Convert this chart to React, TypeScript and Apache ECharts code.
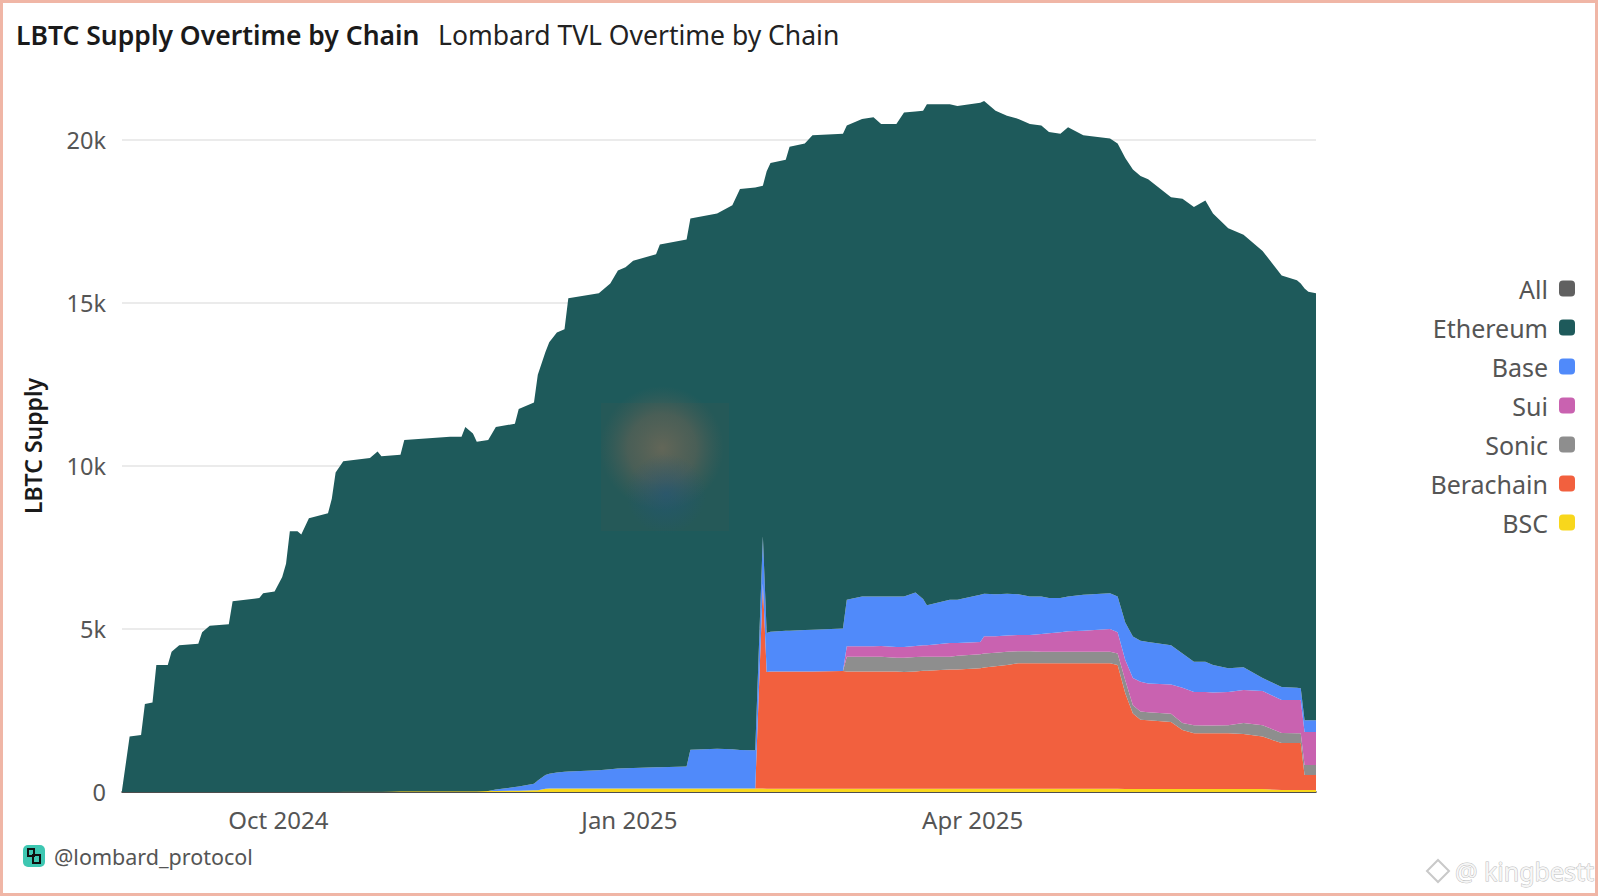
import React, { useEffect, useRef } from 'react';
import * as echarts from 'echarts';

// daily snapshots (values in thousands of LBTC)
const dates = [
  '2024-08-21', '2024-08-23', '2024-08-26', '2024-08-27', '2024-08-29', '2024-08-30', '2024-09-02', '2024-09-03', '2024-09-05', '2024-09-10',
  '2024-09-11', '2024-09-13', '2024-09-18', '2024-09-19', '2024-09-26', '2024-09-27', '2024-09-30', '2024-10-02', '2024-10-03', '2024-10-04',
  '2024-10-06', '2024-10-07', '2024-10-09', '2024-10-14', '2024-10-15', '2024-10-16', '2024-10-18', '2024-10-25', '2024-10-27', '2024-10-28',
  '2024-11-02', '2024-11-03', '2024-11-15', '2024-11-18', '2024-11-19', '2024-11-21', '2024-11-22', '2024-11-25', '2024-11-27', '2024-12-02',
  '2024-12-03', '2024-12-07', '2024-12-08', '2024-12-10', '2024-12-11', '2024-12-13', '2024-12-15', '2024-12-16', '2024-12-24', '2024-12-27',
  '2024-12-29', '2024-12-31', '2025-01-02', '2025-01-08', '2025-01-09', '2025-01-16', '2025-01-17', '2025-01-24', '2025-01-28', '2025-01-30',
  '2025-02-03', '2025-02-05', '2025-02-06', '2025-02-07', '2025-02-11', '2025-02-12', '2025-02-16', '2025-02-18', '2025-02-26', '2025-02-27',
  '2025-03-03', '2025-03-06', '2025-03-08', '2025-03-12', '2025-03-14', '2025-03-17', '2025-03-19', '2025-03-20', '2025-03-26', '2025-03-28',
  '2025-04-03', '2025-04-04', '2025-04-07', '2025-04-10', '2025-04-13', '2025-04-16', '2025-04-19', '2025-04-21', '2025-04-24', '2025-04-26',
  '2025-04-30', '2025-05-07', '2025-05-09', '2025-05-11', '2025-05-13', '2025-05-15', '2025-05-17', '2025-05-23', '2025-05-26', '2025-05-29',
  '2025-06-01', '2025-06-03', '2025-06-07', '2025-06-11', '2025-06-16', '2025-06-21', '2025-06-25', '2025-06-26', '2025-06-27', '2025-06-28',
  '2025-06-30',
];

const ethereum = [
  0.05, 1.7, 1.75, 2.7, 2.75, 3.9, 3.9, 4.3, 4.5, 4.55,
  4.9, 5.1, 5.15, 5.85, 5.95, 6.1, 6.15, 6.6, 7.0, 8.0,
  8.0, 7.9, 8.4, 8.55, 9.0, 9.8, 10.14, 10.24, 10.44, 10.29,
  10.33, 10.78, 10.88, 10.88, 11.18, 10.98, 10.73, 10.77, 11.12, 11.15,
  11.58, 11.7, 12.45, 12.98, 13.24, 13.5, 13.58, 14.52, 14.63, 14.9,
  15.28, 15.37, 15.56, 15.74, 16.04, 16.17, 16.3, 16.42, 16.69, 17.21,
  17.27, 10.75, 14.17, 14.38, 14.45, 14.85, 14.93, 15.17, 15.18, 14.55,
  14.65, 14.7, 14.5, 14.5, 14.85, 14.76, 14.98, 15.37, 15.2, 15.15,
  15.1, 15.12, 14.83, 14.67, 14.58, 14.5, 14.45, 14.3, 14.25, 14.4,
  14.1, 13.95, 13.9, 14.25, 14.33, 14.26, 14.2, 13.75, 13.95, 13.95,
  14.15, 13.85, 13.5, 13.27, 13.1, 12.63, 12.5, 12.42, 13.25, 13.15,
  13.1,
];

const base = [
  0, 0, 0, 0, 0, 0, 0, 0, 0, 0,
  0, 0, 0, 0, 0, 0, 0, 0, 0, 0,
  0, 0, 0, 0, 0, 0, 0, 0, 0, 0,
  0, 0, 0, 0, 0, 0, 0, 0, 0.05, 0.11,
  0.13, 0.2, 0.3, 0.42, 0.45, 0.49, 0.51, 0.52, 0.56, 0.59,
  0.61, 0.62, 0.63, 0.65, 0.65, 0.67, 1.19, 1.22, 1.2, 1.18,
  1.17, 1.45, 1.2, 1.22, 1.25, 1.25, 1.27, 1.28, 1.31, 1.43,
  1.53, 1.53, 1.52, 1.55, 1.55, 1.64, 1.42, 1.23, 1.33, 1.33,
  1.45, 1.3, 1.29, 1.28, 1.25, 1.18, 1.15, 1.08, 1.05, 1.07,
  1.1, 1.1, 1.1, 1.15, 1.27, 1.26, 1.27, 1.2, 1.05, 0.93,
  0.93, 0.85, 0.73, 0.7, 0.4, 0.4, 0.38, 0.36, 0.36, 0.36,
  0.36,
];

const sui = [
  0, 0, 0, 0, 0, 0, 0, 0, 0, 0,
  0, 0, 0, 0, 0, 0, 0, 0, 0, 0,
  0, 0, 0, 0, 0, 0, 0, 0, 0, 0,
  0, 0, 0, 0, 0, 0, 0, 0, 0, 0,
  0, 0, 0, 0, 0, 0, 0, 0, 0, 0,
  0, 0, 0, 0, 0, 0, 0, 0, 0, 0,
  0, 0, 0, 0, 0, 0, 0, 0, 0, 0.32,
  0.32, 0.32, 0.33, 0.33, 0.33, 0.34, 0.35, 0.35, 0.42, 0.39,
  0.37, 0.53, 0.51, 0.5, 0.5, 0.5, 0.55, 0.57, 0.6, 0.63,
  0.65, 0.7, 0.65, 0.62, 0.84, 0.91, 0.88, 0.9, 1.08, 1.02,
  1.03, 1.01, 1.02, 1.01, 1.05, 1.01, 1.02, 1.02, 1.01, 1.01,
  1.01,
];

const sonic = [
  0, 0, 0, 0, 0, 0, 0, 0, 0, 0,
  0, 0, 0, 0, 0, 0, 0, 0, 0, 0,
  0, 0, 0, 0, 0, 0, 0, 0, 0, 0,
  0, 0, 0, 0, 0, 0, 0, 0, 0, 0,
  0, 0, 0, 0, 0, 0, 0, 0, 0, 0,
  0, 0, 0, 0, 0, 0, 0, 0, 0, 0,
  0, 0, 0, 0, 0, 0, 0, 0, 0, 0.45,
  0.45, 0.45, 0.45, 0.42, 0.44, 0.44, 0.43, 0.43, 0.39, 0.42,
  0.43, 0.43, 0.41, 0.4, 0.37, 0.37, 0.35, 0.35, 0.35, 0.35,
  0.35, 0.35, 0.35, 0.4, 0.25, 0.25, 0.25, 0.25, 0.22, 0.25,
  0.24, 0.24, 0.25, 0.34, 0.35, 0.31, 0.3, 0.3, 0.31, 0.31,
  0.31,
];

const berachain = [
  0, 0, 0, 0, 0, 0, 0, 0, 0, 0,
  0, 0, 0, 0, 0, 0, 0, 0, 0, 0,
  0, 0, 0, 0, 0, 0, 0, 0, 0, 0,
  0, 0, 0, 0, 0, 0, 0, 0, 0, 0,
  0, 0, 0, 0, 0, 0, 0, 0, 0, 0,
  0, 0, 0, 0, 0, 0, 0, 0, 0, 0,
  0, 6.29, 3.58, 3.6, 3.6, 3.6, 3.6, 3.6, 3.61, 3.6,
  3.6, 3.6, 3.6, 3.6, 3.58, 3.6, 3.62, 3.62, 3.66, 3.66,
  3.7, 3.72, 3.76, 3.8, 3.85, 3.85, 3.85, 3.85, 3.85, 3.85,
  3.85, 3.85, 3.8, 2.94, 2.32, 2.13, 2.11, 2.06, 1.81, 1.71,
  1.71, 1.71, 1.71, 1.69, 1.61, 1.44, 1.44, 1.44, 0.46, 0.46,
  0.46,
];

const bsc = [
  0, 0, 0, 0, 0, 0, 0, 0, 0, 0,
  0, 0, 0, 0, 0, 0, 0, 0, 0, 0,
  0, 0, 0, 0, 0, 0, 0.01, 0.01, 0.01, 0.01,
  0.02, 0.02, 0.02, 0.02, 0.02, 0.02, 0.02, 0.03, 0.03, 0.04,
  0.04, 0.05, 0.05, 0.1, 0.11, 0.11, 0.11, 0.11, 0.11, 0.11,
  0.11, 0.11, 0.11, 0.11, 0.11, 0.11, 0.11, 0.11, 0.11, 0.11,
  0.11, 0.11, 0.1, 0.1, 0.1, 0.1, 0.1, 0.1, 0.1, 0.1,
  0.1, 0.1, 0.1, 0.1, 0.1, 0.1, 0.1, 0.1, 0.1, 0.1,
  0.1, 0.1, 0.1, 0.1, 0.1, 0.1, 0.1, 0.1, 0.1, 0.1,
  0.1, 0.1, 0.1, 0.09, 0.09, 0.09, 0.09, 0.09, 0.09, 0.09,
  0.09, 0.09, 0.09, 0.09, 0.09, 0.06, 0.06, 0.06, 0.06, 0.06,
  0.06,
];

const tickDates = ['2024-10-01', '2025-01-01', '2025-04-01'];
const legendNames = ['All', 'Ethereum', 'Base', 'Sui', 'Sonic', 'Berachain', 'BSC'];

const MONTHS = ['Jan', 'Feb', 'Mar', 'Apr', 'May', 'Jun', 'Jul', 'Aug', 'Sep', 'Oct', 'Nov', 'Dec'];
const FONT = '"Noto Sans", sans-serif';

const toTime = (s: string) => {
  const [y, m, d] = s.split('-').map(Number);
  return new Date(y, m - 1, d).getTime();
};

const App: React.FC = () => {
  const chartRef = useRef<HTMLDivElement | null>(null);

  useEffect(() => {
    if (!chartRef.current) return;
    const chart = echarts.init(chartRef.current, undefined, { renderer: 'svg' });

    // bottom of the stack first
    const stacked = [
      { name: 'BSC', values: bsc, color: '#f8d71c' },
      { name: 'Berachain', values: berachain, color: '#f2603e' },
      { name: 'Sonic', values: sonic, color: '#8e8e8e' },
      { name: 'Sui', values: sui, color: '#c962b0' },
      { name: 'Base', values: base, color: '#508afa' },
      { name: 'Ethereum', values: ethereum, color: '#1e5a5b' },
    ];

    const xMin = toTime(dates[0]);
    const xMax = toTime(dates[dates.length - 1]);

    const option = {
      animation: false,
      backgroundColor: '#ffffff',
      title: [
        {
          text: 'LBTC Supply Overtime by Chain',
          left: 11,
          top: 16,
          textStyle: { fontFamily: FONT, fontSize: 26.5, fontWeight: 600, color: '#1a1a1a' },
        },
        {
          text: 'Lombard TVL Overtime by Chain',
          left: 433,
          top: 16,
          textStyle: { fontFamily: FONT, fontSize: 26.5, fontWeight: 400, color: '#222222' },
        },
      ],
      grid: { left: 122, right: 282, top: 75, bottom: 104 },
      legend: {
        data: legendNames,
        orient: 'vertical',
        right: 18,
        top: 271,
        align: 'right',
        icon: 'roundRect',
        itemWidth: 16,
        itemHeight: 16,
        itemGap: 14,
        selectedMode: false,
        textStyle: { fontFamily: FONT, fontSize: 25, color: '#555555', lineHeight: 24, padding: [0, 6, 0, 0] },
      },
      xAxis: [
        {
          // the series run on a time axis
          type: 'time',
          min: xMin,
          max: xMax,
          boundaryGap: false,
          axisLine: { onZero: false, lineStyle: { color: '#1a1a1a', width: 1.5 } },
          axisTick: { show: false },
          axisLabel: { show: false },
          splitLine: { show: false },
        },
        {
          // label-only axis over the same span, so the three quarter ticks sit exactly on their dates
          type: 'value',
          position: 'bottom',
          min: xMin,
          max: xMax,
          axisLine: { show: false },
          axisTick: { show: false },
          splitLine: { show: false },
          axisLabel: {
            customValues: tickDates.map(toTime),
            margin: 15,
            fontFamily: FONT,
            fontSize: 24,
            color: '#555555',
            formatter: (v: number) => {
              const d = new Date(v);
              return `${MONTHS[d.getMonth()]} ${d.getFullYear()}`;
            },
          },
        },
      ],
      yAxis: {
        type: 'value',
        min: 0,
        max: 22,
        interval: 5,
        axisLine: { show: false },
        axisTick: { show: false },
        splitLine: { show: true, showMaxLine: false, lineStyle: { color: '#e4e4e4', width: 1.5 } },
        axisLabel: {
          showMaxLabel: false,
          margin: 16,
          fontFamily: FONT,
          fontSize: 23.5,
          color: '#555555',
          formatter: (v: number) => (v === 0 ? '0' : `${v}k`),
        },
      },
      series: [
        { name: 'All', type: 'line', data: [], color: '#606060' },
        ...stacked.map((s) => ({
          name: s.name,
          type: 'line',
          xAxisIndex: 0,
          stack: 'total',
          symbol: 'none',
          color: s.color,
          lineStyle: { width: 0 },
          areaStyle: { color: s.color, opacity: 1 },
          data: dates.map((d, i) => [d, s.values[i]]),
        })),
      ],
      graphic: [
        {
          type: 'rect',
          silent: true,
          z: 100,
          shape: { x: 1.5, y: 1.5, width: 1595, height: 893 },
          style: { fill: 'none', stroke: '#f0b6a6', lineWidth: 3 },
        },
        {
          type: 'text',
          x: 33,
          y: 446,
          rotation: Math.PI / 2,
          style: {
            text: 'LBTC Supply',
            fontFamily: FONT,
            fontSize: 23,
            fontWeight: 600,
            fill: '#1a1a1a',
            textAlign: 'center',
            textVerticalAlign: 'middle',
          },
        },
        // blurred logo in the middle of the plot
        {
          type: 'rect',
          silent: true,
          z: 50,
          shape: { x: 601, y: 403, width: 128, height: 128 },
          style: { fill: 'rgba(70,90,80,0.18)' },
        },
        {
          type: 'circle',
          silent: true,
          z: 51,
          shape: { cx: 662, cy: 448, r: 62 },
          style: {
            fill: {
              type: 'radial',
              x: 0.5,
              y: 0.5,
              r: 0.5,
              colorStops: [
                { offset: 0, color: 'rgba(125,108,88,0.7)' },
                { offset: 0.55, color: 'rgba(110,100,85,0.5)' },
                { offset: 1, color: 'rgba(90,95,85,0)' },
              ],
            },
          },
        },
        {
          type: 'circle',
          silent: true,
          z: 52,
          shape: { cx: 666, cy: 494, r: 40 },
          style: {
            fill: {
              type: 'radial',
              x: 0.5,
              y: 0.5,
              r: 0.5,
              colorStops: [
                { offset: 0, color: 'rgba(35,85,120,0.6)' },
                { offset: 1, color: 'rgba(35,85,120,0)' },
              ],
            },
          },
        },
        // footer handle
        {
          type: 'group',
          left: 23,
          top: 845,
          children: [
            { type: 'rect', shape: { x: 0, y: 0, width: 22, height: 22, r: 5 }, style: { fill: '#3ec7b2' } },
            { type: 'rect', shape: { x: 5, y: 4, width: 6, height: 7 }, style: { fill: 'none', stroke: '#111', lineWidth: 2 } },
            { type: 'rect', shape: { x: 10, y: 10, width: 7, height: 8 }, style: { fill: 'none', stroke: '#111', lineWidth: 2 } },
          ],
        },
        {
          type: 'text',
          x: 54,
          y: 856,
          style: {
            text: '@lombard_protocol',
            fontFamily: FONT,
            fontSize: 21.5,
            fill: '#555555',
            textVerticalAlign: 'middle',
          },
        },
        // watermark
        {
          type: 'polygon',
          silent: true,
          shape: { points: [[1438, 860], [1449, 871], [1438, 882], [1427, 871]] },
          style: { fill: 'none', stroke: '#c9c9c9', lineWidth: 2 },
        },
        {
          type: 'text',
          x: 1455,
          y: 871,
          silent: true,
          style: {
            text: '@ kingbestt',
            fontFamily: FONT,
            fontSize: 25,
            fill: '#f6f6f6',
            stroke: '#bdbdbd',
            lineWidth: 1,
            textVerticalAlign: 'middle',
          },
        },
      ],
    };

    chart.setOption(option as any);
    return () => {
      chart.dispose();
    };
  }, []);

  return (
    <div
      ref={chartRef}
      style={{ position: 'absolute', left: 0, top: 0, width: '1598px', height: '896px', background: '#fff' }}
    />
  );
};

export default App;
